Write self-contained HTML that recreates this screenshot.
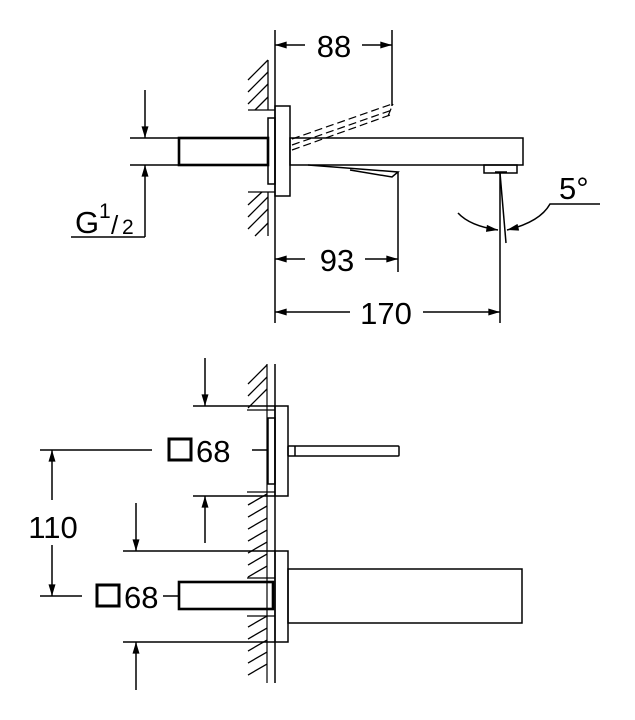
<!DOCTYPE html>
<html><head><meta charset="utf-8"><style>
html,body{margin:0;padding:0;background:#fff}
svg{display:block}
text{font-family:"Liberation Sans",sans-serif;fill:#000}
</style></head><body>
<svg width="635" height="720" viewBox="0 0 635 720" xmlns="http://www.w3.org/2000/svg" stroke="#000" fill="none" stroke-width="1.5">
<defs>
<marker id="a" viewBox="0 0 10 6" refX="10" refY="3" markerWidth="16" markerHeight="7" markerUnits="userSpaceOnUse" orient="auto"><path d="M0,0L10,3L0,6z" fill="#000" stroke="none"/></marker>
</defs>
<!-- ===== TOP VIEW ===== -->
<line x1="275" y1="30" x2="275" y2="323"/>
<g stroke-width="1.3">
<path d="M248,80L268,60M248,92L268,72M248,104L268,84M255,110L268,97"/>
<path d="M248,205L262,192M248,217L268,197M248,229L268,209M255,236L268,223"/>
<line x1="268" y1="60" x2="268" y2="110"/><line x1="268" y1="192" x2="268" y2="236"/>
<line x1="248" y1="110" x2="275" y2="110"/><line x1="248" y1="192" x2="275" y2="192"/>
</g>
<rect x="275" y="106" width="15" height="90"/>
<rect x="268" y="118" width="7" height="66"/>
<rect x="179" y="138" width="89" height="27" stroke-width="2.6"/>
<line x1="130" y1="138" x2="179" y2="138"/><line x1="130" y1="165" x2="179" y2="165"/>
<line x1="145" y1="90" x2="145" y2="138" marker-end="url(#a)"/>
<line x1="145" y1="237" x2="145" y2="165" marker-end="url(#a)"/>
<line x1="71" y1="237" x2="145" y2="237"/>
<text x="75" y="233" font-size="31" stroke="none">G</text>
<text x="99" y="218" font-size="21" stroke="none">1</text>
<text x="111" y="234" font-size="26" stroke="none">/</text>
<text x="122" y="234" font-size="21" stroke="none">2</text>
<rect x="290" y="138" width="233" height="27"/>
<path d="M308,165L398,172L392,177L350,170"/>
<rect x="484" y="165" width="33" height="8"/>
<line x1="495" y1="172" x2="507" y2="172"/>
<g stroke-dasharray="8,4" stroke-width="1.2">
<line x1="292" y1="139" x2="392" y2="104"/>
<line x1="292" y1="145" x2="392" y2="110"/>
<line x1="292" y1="150" x2="390" y2="115"/>
<line x1="388" y1="116" x2="393" y2="104"/>
</g>
<line x1="392" y1="30" x2="392" y2="106"/>
<line x1="305" y1="45" x2="275" y2="45" marker-end="url(#a)"/>
<line x1="362" y1="45" x2="392" y2="45" marker-end="url(#a)"/>
<text x="334" y="57" font-size="31" text-anchor="middle" stroke="none">88</text>
<line x1="398" y1="172" x2="398" y2="272"/>
<line x1="305" y1="259" x2="275" y2="259" marker-end="url(#a)"/>
<line x1="365" y1="259" x2="398" y2="259" marker-end="url(#a)"/>
<text x="337" y="271" font-size="31" text-anchor="middle" stroke="none">93</text>
<line x1="500" y1="173" x2="500" y2="323"/>
<line x1="350" y1="312" x2="275" y2="312" marker-end="url(#a)"/>
<line x1="423" y1="312" x2="500" y2="312" marker-end="url(#a)"/>
<text x="386" y="324" font-size="31" text-anchor="middle" stroke="none">170</text>
<line x1="500" y1="173" x2="506" y2="243"/>
<path d="M600,204L550,204Q540,222 507,230" marker-end="url(#a)"/>
<path d="M458,213Q470,226 498,230" marker-end="url(#a)"/>
<text x="559" y="199" font-size="31" stroke="none">5°</text>

<!-- ===== BOTTOM VIEW ===== -->
<line x1="275" y1="364" x2="275" y2="683"/>
<line x1="267" y1="364" x2="267" y2="683" stroke-width="1.2"/>
<g stroke-width="1.3">
<path d="M248,384L267,365M248,396L267,377M248,408L267,389"/>
<path d="M248,505L267,494M248,517L267,506M248,529L267,518M248,541L267,530M248,553L267,542M248,565L267,554M248,577L267,566"/>
<path d="M248,627L267,616M248,639L267,628M248,651L267,640M248,663L267,652M248,675L267,664"/>
<line x1="247" y1="410" x2="275" y2="410"/><line x1="247" y1="492" x2="275" y2="492"/>
<line x1="247" y1="578" x2="275" y2="578"/><line x1="247" y1="616" x2="275" y2="616"/>
</g>
<rect x="275" y="406" width="13" height="90"/>
<rect x="268" y="418" width="7" height="66"/>
<rect x="288" y="446" width="111" height="10" rx="1"/>
<line x1="295" y1="446" x2="295" y2="456"/>
<line x1="193" y1="406" x2="275" y2="406"/><line x1="193" y1="496" x2="275" y2="496"/>
<line x1="205" y1="358" x2="205" y2="406" marker-end="url(#a)"/>
<line x1="205" y1="543" x2="205" y2="496" marker-end="url(#a)"/>
<rect x="169" y="439" width="22" height="21" stroke-width="3"/>
<text x="196" y="462" font-size="31" stroke="none">68</text>
<line x1="252" y1="450" x2="268" y2="450"/>
<line x1="40" y1="450" x2="152" y2="450"/>
<line x1="40" y1="596" x2="82" y2="596"/>
<line x1="52" y1="500" x2="52" y2="450" marker-end="url(#a)"/>
<line x1="52" y1="545" x2="52" y2="596" marker-end="url(#a)"/>
<text x="53" y="538" font-size="31" text-anchor="middle" stroke="none">110</text>
<rect x="275" y="551" width="13" height="91"/>
<rect x="288" y="569" width="234" height="54"/>
<rect x="179" y="582" width="94" height="27" stroke-width="2.6"/>
<line x1="163" y1="596" x2="179" y2="596"/>
<rect x="97" y="585" width="22" height="21" stroke-width="3"/>
<text x="124" y="608" font-size="31" stroke="none">68</text>
<line x1="123" y1="551" x2="275" y2="551"/><line x1="123" y1="642" x2="275" y2="642"/>
<line x1="136" y1="503" x2="136" y2="551" marker-end="url(#a)"/>
<line x1="136" y1="690" x2="136" y2="642" marker-end="url(#a)"/>
</svg>
</body></html>
